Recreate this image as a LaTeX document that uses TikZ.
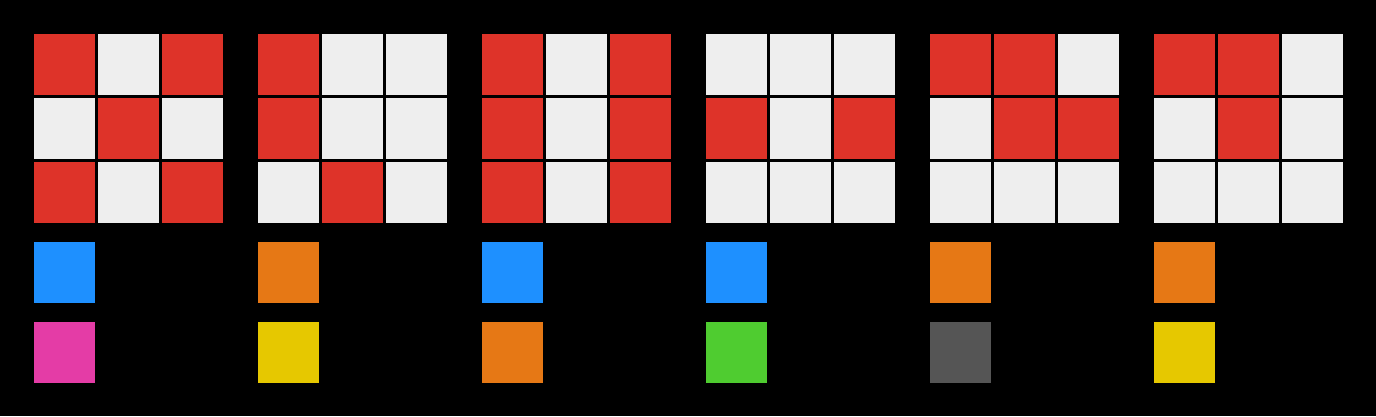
\documentclass[tikz,border=0pt]{standalone}
\usepackage{tikz}

\definecolor{c0}{HTML}{EEEEEE}
\definecolor{c1}{HTML}{DE3329}
\definecolor{blue}{HTML}{1E90FF}
\definecolor{magenta}{HTML}{E43CA6}
\definecolor{orange}{HTML}{E67815}
\definecolor{yellow}{HTML}{E6C800}
\definecolor{green}{HTML}{4FCC30}
\definecolor{gray}{HTML}{555555}

\begin{document}
\begin{tikzpicture}[x=1pt,y=-1pt]
  \tikzstyle{every node}=[minimum size=61pt, inner sep=0pt, outer sep=0pt, anchor=north west]
  \fill[black] (0,0) rectangle (1376,416);
  \useasboundingbox (0,0) rectangle (1376,416);
  \foreach \g/\pat/\ca/\cb in {
      0/{1,0,1,0,1,0,1,0,1}/blue/magenta,
      1/{1,0,0,1,0,0,0,1,0}/orange/yellow,
      2/{1,0,1,1,0,1,1,0,1}/blue/orange,
      3/{0,0,0,1,0,1,0,0,0}/blue/green,
      4/{1,1,0,0,1,1,0,0,0}/orange/gray,
      5/{1,1,0,0,1,0,0,0,0}/orange/yellow} {
    \foreach \v [count=\i from 0] in \pat {
      \pgfmathtruncatemacro{\cx}{34+224*\g+64*mod(\i,3)}
      \pgfmathtruncatemacro{\cy}{34+64*int(\i/3)}
      \node[fill=c\v] (g\g-\i) at (\cx,\cy) {};
    }
    \node[fill=\ca] (k\g-a) at (34+224*\g,242) {};
    \node[fill=\cb] (k\g-b) at (34+224*\g,322) {};
  }
\end{tikzpicture}
\end{document}
